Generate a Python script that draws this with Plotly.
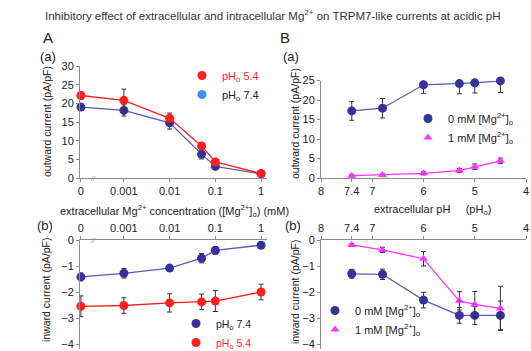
import math
import plotly.graph_objects as go

W, H = 531, 351

# ---------------- data ----------------
mg_conc = [0, 0.001, 0.01, 0.05, 0.1, 1]          # mM, extracellular Mg2+
out_ph54 = [22.1, 20.8, 16.0, 8.6, 4.3, 1.2]
out_ph54_err = [1.0, 3.0, 1.4, 0.7, 0.7, 0.3]
out_ph74 = [19.0, 18.1, 14.8, 6.4, 3.1, 1.1]
out_ph74_err = [0.8, 1.5, 1.7, 1.3, 0.6, 0.3]

in_ph74 = [-1.42, -1.28, -1.08, -0.70, -0.40, -0.20]
in_ph74_err = [0.15, 0.18, 0.08, 0.18, 0.15, 0.10]
in_ph54 = [-2.55, -2.52, -2.42, -2.38, -2.35, -2.00]
in_ph54_err = [0.40, 0.30, 0.35, 0.30, 0.40, 0.30]

ph_vals = [7.4, 6.8, 6.0, 5.3, 5.0, 4.5]
out_mg0 = [17.2, 17.9, 23.9, 24.2, 24.4, 24.9]
out_mg0_err = [2.4, 2.5, 2.2, 2.6, 2.6, 3.0]
out_mg1 = [0.6, 0.8, 1.2, 1.9, 2.9, 4.4]
out_mg1_err = [0.3, 0.3, 0.4, 0.5, 0.7, 0.7]

in_mg0 = [-1.30, -1.32, -2.31, -2.90, -2.90, -2.90]
in_mg0_err = [0.17, 0.20, 0.30, 0.30, 0.35, 0.55]
in_mg1 = [-0.19, -0.38, -0.72, -2.34, -2.48, -2.63]
in_mg1_err = [0.05, 0.10, 0.28, 0.35, 0.50, 0.85]

conc_ticks = [0, 0.001, 0.01, 0.1, 1]
conc_ticktext = ["0", "0.001", "0.01", "0.1", "1"]
ph_ticks = [8, 7.4, 7, 6, 5, 4]
ph_ticktext = ["8", "7.4", "7", "6", "5", "4"]

ZERO_STANDIN = 10 ** -3.94   # position of "0" on the broken log axis


def cpos(c):
    return ZERO_STANDIN if c == 0 else c


# ---------------- styles ----------------
RED = "#ff1f1f"
NAVY = "#333399"
NAVY_LINE = "#5a5ab4"
MAGENTA = "#ff33ff"
LIGHTBLUE = "#3d8ef5"
FONT = "Liberation Sans, Arial, sans-serif"
AX = "#8c8c8c"
TXT = "#222222"


def px_x(p):
    return p / W


def px_y(p):
    return 1 - p / H


fig = go.Figure()


def add_series(x, y, err, color, line_color, symbol, name, xa, ya, legend, showlegend=True, size=9):
    # connecting line (not in legend)
    fig.add_trace(go.Scatter(
        x=x, y=y, mode="lines", line=dict(color=line_color, width=1.3),
        xaxis=xa, yaxis=ya, showlegend=False, hoverinfo="skip", cliponaxis=False,
    ))
    # markers with error bars (legend shows marker only)
    fig.add_trace(go.Scatter(
        x=x, y=y, mode="markers", name=name,
        marker=dict(color=color, size=size, symbol=symbol),
        error_y=dict(type="data", array=err, visible=True, color="#333333", thickness=1, width=2.5),
        xaxis=xa, yaxis=ya, legend=legend, showlegend=showlegend, cliponaxis=False,
    ))


xa_conc = [cpos(c) for c in mg_conc]

# A(a)
add_series(xa_conc, out_ph74, out_ph74_err, NAVY, NAVY_LINE, "circle", "pH<sub>o</sub> 7.4", "x", "y", "legend", showlegend=False)
add_series(xa_conc, out_ph54, out_ph54_err, RED, RED, "circle", "<span style='color:#ff1f1f'>pH<sub>o</sub> 5.4</span>", "x", "y", "legend")
fig.add_trace(go.Scatter(x=[None], y=[None], mode="markers", name="pH<sub>o</sub> 7.4",
                         marker=dict(color=LIGHTBLUE, size=9), xaxis="x", yaxis="y", legend="legend"))
# A(b)
add_series(xa_conc, in_ph74, in_ph74_err, NAVY, NAVY_LINE, "circle", "pH<sub>o</sub> 7.4", "x2", "y2", "legend2")
add_series(xa_conc, in_ph54, in_ph54_err, RED, RED, "circle", "<span style='color:#ff1f1f'>pH<sub>o</sub> 5.4</span>", "x2", "y2", "legend2")
# B(a)
add_series(ph_vals, out_mg0, out_mg0_err, NAVY, NAVY_LINE, "circle", "0 mM [Mg<sup>2+</sup>]<sub>o</sub>", "x3", "y3", "legend3")
add_series(ph_vals, out_mg1, out_mg1_err, MAGENTA, MAGENTA, "triangle-up", "1 mM [Mg<sup>2+</sup>]<sub>o</sub>", "x3", "y3", "legend3", size=8)
# B(b)
add_series(ph_vals, in_mg0, in_mg0_err, NAVY, NAVY_LINE, "circle", "0 mM [Mg<sup>2+</sup>]<sub>o</sub>", "x4", "y4", "legend4")
add_series(ph_vals, in_mg1, in_mg1_err, MAGENTA, MAGENTA, "triangle-up", "1 mM [Mg<sup>2+</sup>]<sub>o</sub>", "x4", "y4", "legend4", size=8)

tickfont = dict(family=FONT, size=11, color=TXT)
common_ax = dict(showline=True, linecolor=AX, linewidth=1, showgrid=False, zeroline=False,
                 ticks="outside", ticklen=3, tickcolor=AX, tickfont=tickfont, fixedrange=True,
                 ticklabeloverflow="allow")

A_dom = [px_x(80), px_x(267)]
B_dom = [px_x(321), px_x(526)]
top_dom = [px_y(178), px_y(66)]
topB_dom = [px_y(178), px_y(80.5)]
bot_dom = [px_y(349.2), px_y(240)]

conc_tv = [cpos(c) for c in conc_ticks]

fig.update_layout(
    width=W, height=H, margin=dict(l=0, r=0, t=0, b=0, autoexpand=False),
    paper_bgcolor="white", plot_bgcolor="white",
    font=dict(family=FONT, size=11, color=TXT),
    xaxis=dict(domain=A_dom, type="log", range=[-3.96, 0.13], tickvals=conc_tv, ticktext=conc_ticktext,
               anchor="y", **common_ax),
    yaxis=dict(domain=top_dom, range=[0, 30], dtick=5, anchor="x", **common_ax),
    xaxis2=dict(domain=A_dom, type="log", range=[-3.96, 0.13], tickvals=conc_tv, ticktext=conc_ticktext,
                side="top", anchor="y2", **common_ax),
    yaxis2=dict(domain=bot_dom, range=[-4.2, 0], dtick=1, anchor="x2", **common_ax),
    xaxis3=dict(domain=B_dom, range=[8, 4], tickvals=ph_ticks, ticktext=ph_ticktext, anchor="y3", **common_ax),
    yaxis3=dict(domain=topB_dom, range=[0, 25], dtick=5, anchor="x3", **common_ax),
    xaxis4=dict(domain=B_dom, range=[8, 4], tickvals=ph_ticks, ticktext=ph_ticktext, side="top",
                anchor="y4", **common_ax),
    yaxis4=dict(domain=bot_dom, range=[-4.2, 0], dtick=1, anchor="x4", **common_ax),
)

leg_common = dict(bgcolor="rgba(0,0,0,0)", borderwidth=0,
                  xanchor="left", yanchor="middle", itemwidth=30, tracegroupgap=0)
leg_font = dict(family=FONT, size=11, color=TXT)
fig.update_layout(
    legend=dict(x=px_x(182), y=px_y(85), font=leg_font, **leg_common),
    legend2=dict(x=px_x(176), y=px_y(333), font=dict(family=FONT, size=10.5, color=TXT), **leg_common),
    legend3=dict(x=px_x(408), y=px_y(128), font=leg_font, **leg_common),
    legend4=dict(x=px_x(315), y=px_y(320), font=leg_font, **leg_common),
)


def ann(text, x, y, size=11, color=TXT, angle=0, xanchor="center"):
    fig.add_annotation(text=text, x=px_x(x), y=px_y(y), xref="paper", yref="paper",
                       showarrow=False, textangle=angle, xanchor=xanchor, yanchor="middle",
                       font=dict(family=FONT, size=size, color=color))


ann("Inhibitory effect of extracellular and intracellular Mg<sup>2+</sup> on TRPM7-like currents at acidic pH",
    273, 15, size=11.5, color="#333333")
ann("A", 48, 38, size=15)
ann("B", 285, 38, size=15)
ann("(a)", 48, 57, size=13)
ann("(a)", 291, 57, size=13)
ann("(b)", 45, 225, size=13)
ann("(b)", 293, 225, size=13)
ann("outward current (pA/pF)", 47, 122, size=10.5, angle=-90)
ann("inward current (pA/pF)", 46, 290, size=10.5, angle=-90)
ann("outward current (pA/pF)", 295, 124, size=10.5, angle=-90)
ann("inward current (pA/pF)", 295, 292, size=10.5, angle=-90)
ann("extracellular Mg<sup>2+</sup> concentration ([Mg<sup>2+</sup>]<sub>o</sub>) (mM)", 174, 211)
ann("extracellular pH\u00a0\u00a0\u00a0\u00a0\u00a0(pH<sub>o</sub>)", 432, 210)
ann("<i>//</i>", 93, 178, size=7, color=AX)
ann("<i>//</i>", 93, 240, size=7, color=AX)

fig.write_html("out.html")
